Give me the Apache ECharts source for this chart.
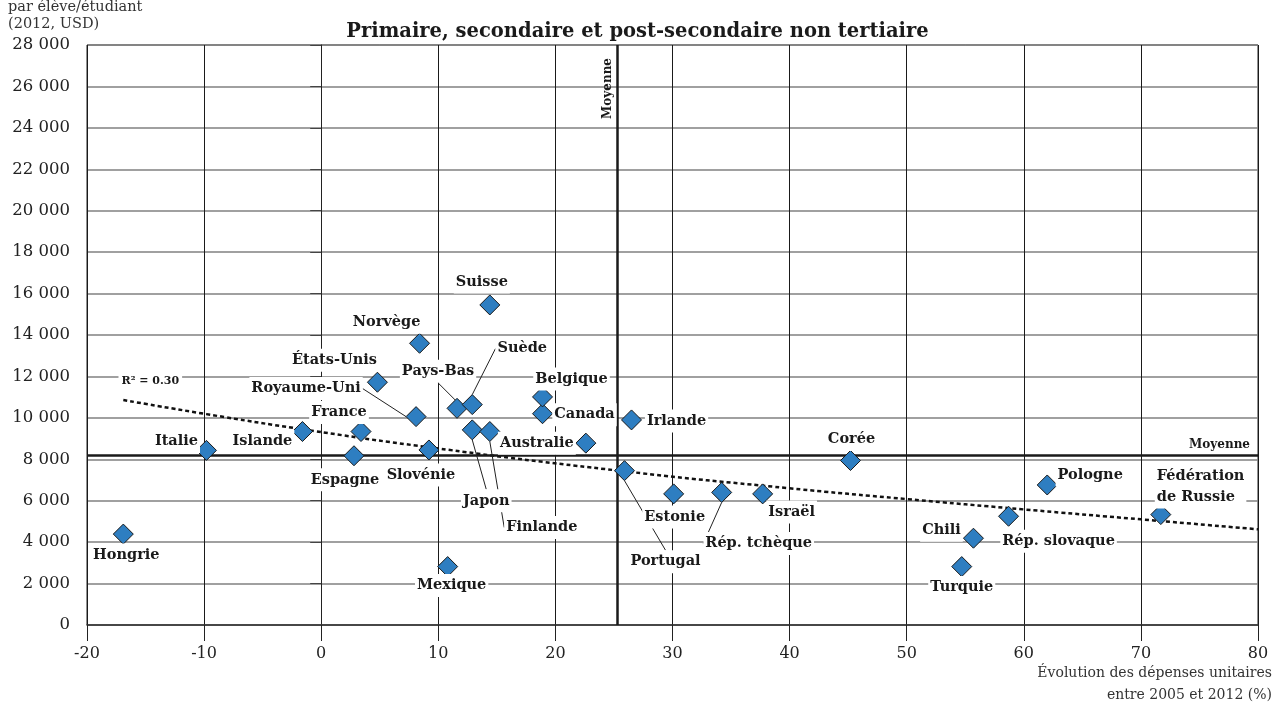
<!DOCTYPE html>
<html>
<head>
<meta charset="utf-8">
<script src="https://cdn.jsdelivr.net/npm/echarts@6/dist/echarts.min.js"></script>
<style>
html,body{margin:0;padding:0;background:#fff;}
#chart{width:1275px;height:708px;}
</style>
</head>
<body>
<div id="chart"></div>
<script>
// ---- Data ----
const countries = ['Hongrie','Italie','Islande','Espagne','France','États-Unis','Royaume-Uni','Norvège','Slovénie','Mexique','Pays-Bas','Japon','Suède','Suisse','Finlande','Canada','Belgique','Australie','Portugal','Irlande','Estonie','Rép. tchèque','Israël','Corée','Turquie','Chili','Rép. slovaque','Pologne','Fédération\nde Russie'];
const changePct = [-16.9,-9.8,-1.6,2.8,3.4,4.8,8.1,8.4,9.2,10.8,11.6,12.9,12.9,14.4,14.4,18.9,18.9,22.6,25.9,26.5,30.1,34.2,37.7,45.2,54.7,55.7,58.7,62.0,71.7];
const spending = [4390,8430,9340,8170,9340,11720,10060,13600,8450,2820,10460,9420,10640,15450,9340,10200,11010,8780,7450,9900,6330,6400,6330,7940,2820,4190,5250,6760,5330];
const trendX = [-16.9,-9.8,-1.6,9.2,25.9,40,50,60,70,80];
const trendY = [10860,10180,9450,8580,7420,6600,6080,5580,5100,4620];
const meanX = 25.3;
const meanY = 8180;
const r2Text = 'R² = 0.30';
const xTicks = {min:-20, max:80, interval:10};
const yTicks = {min:0, max:28000, interval:2000};

// ---- Label placement (styling: pixel offsets of label centre from marker) ----
const labelOffsets = {
  'Hongrie':[3,21],'Italie':[-30,-9],'Islande':[-40,10],'Espagne':[-9,24],'France':[-22,-19],
  'États-Unis':[-43,-22],'Royaume-Uni':[-110,-28],'Norvège':[-33,-21],'Slovénie':[-8,25],
  'Mexique':[4,19],'Pays-Bas':[-19,-37],'Japon':[14,71],'Suède':[50,-56],'Suisse':[-8,-23],
  'Finlande':[52,96],'Canada':[42,1],'Belgique':[29,-18],'Australie':[-49,0],'Portugal':[41,91],
  'Irlande':[45,1],'Estonie':[1,23],'Rép. tchèque':[37,51],'Israël':[29,18],'Corée':[1,-21],
  'Turquie':[0,21],'Chili':[-32,-8],'Rép. slovaque':[50,25],'Pologne':[43,-10],
  'Fédération\nde Russie':[-6,-28]
};
const withLeader = ['Royaume-Uni','Pays-Bas','Suède','Japon','Finlande','Portugal','Rép. tchèque'];

const serif = '"DejaVu Serif", serif';
const scatterData = countries.map((c,i)=>{
  const item = {name:c, value:[changePct[i], spending[i]]};
  item.labelLine = {show: withLeader.indexOf(c) >= 0};
  if (c.indexOf('\n') >= 0) item.label = {align:'left'};
  return item;
});
const trendData = trendX.map((x,i)=>[x, trendY[i]]);
trendData[0] = {value: trendData[0], label:{show:true, formatter:r2Text, offset:[27,-7]}};

function fmtThousands(v){ return String(v).replace(/\B(?=(\d{3})+(?!\d))/g,' '); }

const chart = echarts.init(document.getElementById('chart'), null, {renderer:'canvas'});
chart.setOption({
  animation:false,
  backgroundColor:'#fff',
  title:{text:'Primaire, secondaire et post-secondaire non tertiaire', left:'center', top:17,
    textStyle:{fontFamily:serif, fontWeight:'bold', fontSize:19.5, color:'#1a1a1a'}},
  grid:{left:87, right:17, top:45, bottom:83, show:true, borderColor:'#222', borderWidth:1},
  xAxis:{type:'value', min:xTicks.min, max:xTicks.max, interval:xTicks.interval,
    axisLine:{onZero:false, lineStyle:{color:'#333', width:1.5}},
    axisTick:{show:true, length:16, lineStyle:{color:'#222'}},
    axisLabel:{margin:21, fontFamily:serif, fontSize:16, color:'#222'},
    splitLine:{show:true, lineStyle:{color:'#1a1a1a', width:1}}},
  yAxis:{type:'value', min:yTicks.min, max:yTicks.max, interval:yTicks.interval,
    axisLine:{show:true, lineStyle:{color:'#222', width:1}},
    axisTick:{show:true, length:11, lineStyle:{color:'#444'}},
    axisLabel:{margin:17, fontFamily:serif, fontSize:16.5, color:'#222', formatter:fmtThousands},
    splitLine:{show:true, lineStyle:{color:'#808080', width:1.5}}},
  graphic:[
    {type:'text', left:8, top:-18, style:{text:'Dépenses unitaires\npar élève/étudiant\n(2012, USD)', font:'14.5px "DejaVu Serif"', fill:'#333', lineHeight:17}},
    {type:'text', right:3, top:666, style:{text:'Évolution des dépenses unitaires', font:'14px "DejaVu Serif"', fill:'#333'}},
    {type:'text', right:3, top:688, style:{text:'entre 2005 et 2012 (%)', font:'14px "DejaVu Serif"', fill:'#333'}}
  ],
  series:[
    {type:'line', data:trendData, smooth:true, symbol:'circle', symbolSize:0, showSymbol:true,
      lineStyle:{color:'#111', width:2.5, type:[4,3]}, z:3,
      label:{show:false, fontFamily:serif, fontWeight:'bold', fontSize:11, color:'#1a1a1a', backgroundColor:'#fff', padding:[1,3]},
      emphasis:{disabled:true}},
    {type:'scatter', data:scatterData, symbol:'diamond', symbolSize:[20,20], z:5,
      itemStyle:{color:'#2e7ec1', borderColor:'#1a1a1a', borderWidth:1, opacity:1},
      label:{show:true, position:'inside', formatter:'{b}', fontFamily:serif, fontWeight:'bold', fontSize:14.5,
        color:'#1a1a1a', opacity:1, backgroundColor:'#fff', padding:[1,2], lineHeight:21},
      labelLine:{show:false, lineStyle:{color:'#222', width:1, opacity:1}},
      labelLayout:function(p){ const o = labelOffsets[countries[p.dataIndex]]; return {dx:o[0], dy:o[1]}; },
      emphasis:{disabled:true},
      markLine:{silent:true, symbol:'none', animation:false,
        lineStyle:{color:'#1a1a1a', width:2.5, type:'solid', opacity:1},
        label:{fontFamily:serif, fontWeight:'bold', fontSize:12, color:'#1a1a1a', formatter:'Moyenne'},
        data:[
          {xAxis:meanX, label:{position:'insideEndTop', distance:[13,4]}},
          {yAxis:meanY, label:{position:'insideEndTop', distance:[8,5]}}
        ]}
    }
  ]
});
</script>
</body>
</html>
